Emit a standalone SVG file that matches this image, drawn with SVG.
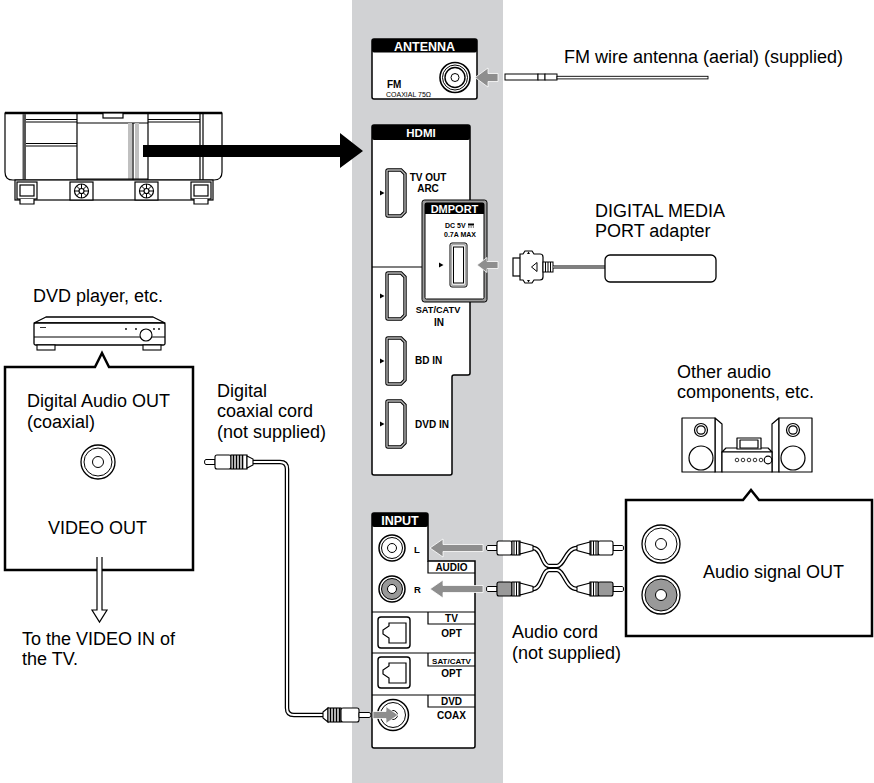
<svg xmlns="http://www.w3.org/2000/svg" width="874" height="783" viewBox="0 0 874 783">
<style>
.lbl{font-family:"Liberation Sans",Arial,sans-serif;font-size:18px;fill:#000}
.b{font-family:"Liberation Sans",Arial,sans-serif;font-weight:bold;fill:#000}
.w{fill:#fff}
.ln{fill:none;stroke:#000;stroke-width:1.2}
.pnl{fill:#fff;stroke:#000;stroke-width:1.5}
.ga{fill:#8e8e8e;stroke:#fff;stroke-width:0.8}
.cbo{fill:none;stroke:#000;stroke-width:4.5;stroke-linecap:round;stroke-linejoin:round}
.cbi{fill:none;stroke:#fff;stroke-width:2;stroke-linecap:round;stroke-linejoin:round}
.port{fill:#fff;stroke:#000;stroke-width:3.4}
.porti{fill:none;stroke:#b8b8b8;stroke-width:1.4}
.tri{fill:#000}
</style>
<defs>
<g id="rca">
<path d="M0.5,-2.5 H10 V2.5 H0.5 Q-0.5,2.5 -0.5,0 Q-0.5,-2.5 0.5,-2.5 Z" fill="#fff" stroke="#000" stroke-width="1"/>
<rect x="10" y="-7" width="15" height="14" rx="2" stroke="#000" stroke-width="1.1"/>
<rect x="25" y="-7" width="8" height="14" fill="#fff" stroke="#000" stroke-width="1.1"/>
<path d="M27,-7 V7 M29.5,-7 V7 M32,-7 V7" stroke="#000" stroke-width="1"/>
<path d="M33,-6 L46,-2.5 V2.5 L33,6 Z" fill="#fff" stroke="#000" stroke-width="1.1"/>
</g>
<g id="hdmiport">
<path class="port" d="M1,0 H14 L18,4 V42 L14,46 H1 Q0,46 0,45 V1 Q0,0 1,0 Z"/>
<path class="porti" d="M1,0 H14 L18,4 V42 L14,46 H1 Q0,46 0,45 V1 Q0,0 1,0 Z"/>
<path class="tri" d="M-7,20.5 L-2.5,23 L-7,25.5 Z"/>
</g>
<g id="optport">
<rect x="0" y="0" width="32" height="31" rx="3" fill="#fff" stroke="#000" stroke-width="1.4"/>
<path d="M11,6 H28 V26 H11 V21 L5,17 V13 L11,9 Z" fill="none" stroke="#000" stroke-width="1.2"/>
</g>
</defs>

<rect x="0" y="0" width="874" height="783" fill="#fff"/>
<rect id="receiver-band" x="352" y="0" width="151" height="783" fill="#d1d2d4"/>

<!-- TV -->
<g id="tv" fill="#fff" stroke="#000" stroke-width="1.2">
<path d="M5,113 H222 V172 Q222,180 214,180 H13 Q5,180 5,172 Z"/>
<line x1="5" y1="113" x2="222" y2="113" stroke-width="2.5"/>
<rect x="22.5" y="114" width="3.5" height="66" fill="#555" stroke="none"/>
<line x1="77" y1="113" x2="77" y2="180"/>
<line x1="148" y1="113" x2="148" y2="180"/>
<line x1="200" y1="113" x2="200" y2="180"/>
<line x1="203" y1="113" x2="203" y2="180"/>
<rect x="103" y="113" width="20" height="5"/>
<line x1="77" y1="123" x2="148" y2="123"/>
<rect x="128" y="123" width="4" height="56" fill="#c0c0c0" stroke="none"/>
<rect x="135" y="123" width="4" height="56" fill="#c0c0c0" stroke="none"/>
<line x1="133" y1="123" x2="133" y2="180"/>
<line x1="77" y1="179" x2="148" y2="179"/>
<line x1="26" y1="119.5" x2="77" y2="119.5"/>
<line x1="26" y1="122" x2="77" y2="122"/>
<line x1="26" y1="143.5" x2="77" y2="143.5"/>
<line x1="26" y1="146" x2="77" y2="146"/>
<line x1="148" y1="119.5" x2="200" y2="119.5"/>
<line x1="148" y1="122" x2="200" y2="122"/>
<rect x="15" y="180" width="198" height="20"/>
<rect x="17" y="182" width="20" height="17"/>
<rect x="20" y="185" width="14" height="11"/>
<path d="M20,199 V204 H34 V199"/>
<rect x="191" y="182" width="20" height="17"/>
<rect x="194" y="185" width="14" height="11"/>
<path d="M194,199 V204 H208 V199"/>
<rect x="70" y="182" width="23" height="18"/>
<circle cx="81.5" cy="191" r="7"/>
<path d="M74.5,191 H88.5 M81.5,184 V198 M76.5,186 L86.5,196 M86.5,186 L76.5,196" stroke-width="1"/>
<circle cx="81.5" cy="191" r="2.5"/>
<rect x="135" y="182" width="23" height="18"/>
<circle cx="146.5" cy="191" r="7"/>
<path d="M139.5,191 H153.5 M146.5,184 V198 M141.5,186 L151.5,196 M151.5,186 L141.5,196" stroke-width="1"/>
<circle cx="146.5" cy="191" r="2.5"/>
</g>

<!-- ANTENNA panel -->
<g id="antenna-panel">
<rect x="372" y="39" width="105" height="60" rx="2" class="pnl"/>
<rect x="372" y="39" width="105" height="13.5" rx="2" fill="#000"/>
<text x="424.5" y="50.5" class="b w" font-size="12.5" text-anchor="middle">ANTENNA</text>
<text x="387" y="88" class="b" font-size="10">FM</text>
<text x="386" y="96.5" font-family="Liberation Sans, Arial, sans-serif" font-size="7" fill="#000">COAXIAL 75Ω</text>
<circle cx="455" cy="77.5" r="15" fill="#fff" stroke="#000" stroke-width="1.6"/>
<circle cx="455" cy="77.5" r="12.5" fill="none" stroke="#000" stroke-width="1"/>
<circle cx="455" cy="77.5" r="10" fill="none" stroke="#000" stroke-width="1.4"/>
<circle cx="455" cy="77.5" r="4" fill="none" stroke="#000" stroke-width="1"/>
</g>

<!-- FM wire antenna -->
<g id="fm-antenna">
<rect x="505" y="74" width="33" height="6" fill="#fff" stroke="#000" stroke-width="1"/>
<rect x="538" y="74" width="7" height="6" fill="#fff" stroke="#000" stroke-width="1"/>
<rect x="545" y="74" width="12" height="6" fill="#fff" stroke="#000" stroke-width="1"/>
<rect x="557" y="76.3" width="151" height="2.6" fill="#fff" stroke="#000" stroke-width="0.9"/>
<text x="564" y="63" class="lbl">FM wire antenna (aerial) (supplied)</text>
</g>

<!-- HDMI panel -->
<g id="hdmi-panel">
<path class="pnl" d="M372,127 Q372,125 374,125 H468 Q470,125 470,127 V373 Q470,375 468,375 H454 Q452,375 452,377 V473 Q452,475 450,475 H374 Q372,475 372,473 Z"/>
<rect x="372" y="125" width="98" height="15" rx="2" fill="#000"/>
<text x="421" y="137" class="b w" font-size="11.5" text-anchor="middle">HDMI</text>
<line x1="372" y1="267" x2="422" y2="267" class="ln"/>
<use href="#hdmiport" x="387" y="170"/>
<text x="428" y="181" class="b" font-size="10" text-anchor="middle">TV OUT</text>
<text x="428" y="192" class="b" font-size="10" text-anchor="middle">ARC</text>
<use href="#hdmiport" x="387" y="273"/>
<text x="438" y="313" class="b" font-size="9.2" text-anchor="middle">SAT/CATV</text>
<text x="439" y="326" class="b" font-size="10" text-anchor="middle">IN</text>
<use href="#hdmiport" x="387" y="338"/>
<text x="415" y="364" class="b" font-size="10">BD IN</text>
<use href="#hdmiport" x="387" y="401"/>
<text x="415" y="428" class="b" font-size="10">DVD IN</text>
</g>

<!-- DMPORT -->
<g id="dmport">
<rect x="422" y="200" width="65" height="102" rx="2.5" fill="#9a9a9a" stroke="#000" stroke-width="1"/>
<rect x="425" y="203" width="59" height="96" rx="1.5" fill="#fff" stroke="#000" stroke-width="1"/>
<rect x="425" y="203" width="59" height="11" fill="#000"/>
<text x="454.5" y="212.5" class="b w" font-size="11" text-anchor="middle">DMPORT</text>
<text x="445" y="228" class="b" font-size="7">DC 5V</text>
<rect x="468" y="223.5" width="6" height="2" fill="#000"/>
<path d="M468,227 H469.5 M470.5,227 H471.8 M472.8,227 H474" stroke="#000" stroke-width="0.9"/>
<text x="460" y="237" class="b" font-size="7" text-anchor="middle">0.7A MAX</text>
<rect x="450" y="243" width="17" height="44" rx="2" fill="#fff" stroke="#000" stroke-width="1"/>
<rect x="451.5" y="244.5" width="14" height="41" rx="1.5" fill="none" stroke="#aaa" stroke-width="1.4"/>
<rect x="453.5" y="247" width="10" height="36" fill="#fff" stroke="#000" stroke-width="1"/>
<path class="tri" d="M439,262.5 L443.5,265 L439,267.5 Z"/>
</g>

<!-- DIGITAL MEDIA PORT adapter -->
<g id="dmport-adapter">
<rect x="513" y="258" width="8" height="18" fill="#fff" stroke="#000" stroke-width="1.2"/>
<path d="M520,254 H523 L525,251 H532 L534,254 H540 Q543,254 543,257 V277 Q543,280 540,280 H534 L532,283 H525 L523,280 H520 Z" fill="#fff" stroke="#000" stroke-width="1.2"/>
<path d="M527,254 L528.5,251.5 L530,254 Z M527,280 L528.5,282.5 L530,280 Z" fill="#000"/>
<path d="M537,262.5 L531.5,267 L537,271.5 Z" fill="#fff" stroke="#000" stroke-width="1"/>
<rect x="543" y="262" width="10" height="10" fill="#fff" stroke="#000" stroke-width="1"/>
<path d="M545.5,262 V272 M548,262 V272 M550.5,262 V272" stroke="#000" stroke-width="1"/>
<path d="M553,267 H605" stroke="#000" stroke-width="3.2"/>
<path d="M553,267 H605" stroke="#fff" stroke-width="1.2"/>
<rect x="605" y="255" width="111" height="27" rx="5" fill="#fff" stroke="#000" stroke-width="1.3"/>
<text x="595" y="217" class="lbl">DIGITAL MEDIA</text>
<text x="595" y="237" class="lbl">PORT adapter</text>
</g>

<!-- DVD player -->
<g id="dvd-player">
<text x="33" y="302" class="lbl">DVD player, etc.</text>
<path d="M34,323 L46,317 H153 L165,323 Z" fill="#fff" stroke="#000" stroke-width="1.3" stroke-linejoin="round"/>
<rect x="34" y="323" width="131" height="22" rx="1.5" fill="#fff" stroke="#000" stroke-width="1.3"/>
<line x1="34" y1="337" x2="140" y2="337" stroke="#000" stroke-width="1"/>
<line x1="152" y1="337" x2="165" y2="337" stroke="#000" stroke-width="1"/>
<circle cx="146" cy="335" r="6" fill="#fff" stroke="#000" stroke-width="1.1"/>
<rect x="37" y="345" width="18" height="5" fill="#fff" stroke="#000" stroke-width="1.1"/>
<rect x="143" y="345" width="18" height="5" fill="#fff" stroke="#000" stroke-width="1.1"/>
<line x1="40" y1="327.5" x2="46" y2="327.5" stroke="#000" stroke-width="0.8"/>
<circle cx="126" cy="329" r="0.9" fill="#000"/>
<circle cx="136" cy="329" r="0.9" fill="#000"/>
<circle cx="154" cy="329" r="0.9" fill="#000"/>
<circle cx="159" cy="329" r="0.9" fill="#000"/>
</g>

<!-- DVD callout -->
<g id="dvd-callout">
<path d="M5,367 H95 L102,353 L109,367 H193 V570 H5 Z" fill="#fff" stroke="#000" stroke-width="2.5" stroke-linejoin="miter"/>
<text x="27" y="407" class="lbl">Digital Audio OUT</text>
<text x="27" y="428" class="lbl">(coaxial)</text>
<circle cx="98" cy="462" r="17" fill="#fff" stroke="#000" stroke-width="1.3"/>
<circle cx="98" cy="462" r="14" fill="none" stroke="#000" stroke-width="1"/>
<circle cx="98" cy="462" r="5.5" fill="none" stroke="#000" stroke-width="1"/>
<text x="48" y="534" class="lbl">VIDEO OUT</text>
<path d="M97,557 V610 H92 L99.5,622 L107,610 H102 V557" fill="#fff" stroke="#000" stroke-width="1.2"/>
<text x="22" y="645" class="lbl">To the VIDEO IN of</text>
<text x="22" y="665" class="lbl">the TV.</text>
</g>

<!-- INPUT panel -->
<g id="input-panel">
<path class="pnl" d="M372,515 Q372,513 374,513 H426 Q428,513 428,515 V561 H475 V746 Q475,748 473,748 H374 Q372,748 372,746 Z"/>
<rect x="372" y="513" width="56" height="14" rx="2" fill="#000"/>
<text x="400" y="525" class="b w" font-size="12.5" text-anchor="middle">INPUT</text>
<path d="M428,561 V573 H475" class="ln"/>
<text x="451.5" y="571" class="b" font-size="10" text-anchor="middle">AUDIO</text>
<circle cx="392" cy="548" r="13" fill="#fff" stroke="#000" stroke-width="1.5"/>
<circle cx="392" cy="548" r="10.5" fill="none" stroke="#000" stroke-width="1"/>
<circle cx="392" cy="548" r="4.5" fill="none" stroke="#000" stroke-width="1"/>
<text x="414" y="553" class="b" font-size="9.5">L</text>
<circle cx="392" cy="589" r="13" fill="#fff" stroke="#000" stroke-width="1.5"/>
<circle cx="392" cy="589" r="10.5" fill="#999" stroke="#000" stroke-width="1"/>
<circle cx="392" cy="589" r="4.5" fill="#fff" stroke="#000" stroke-width="1"/>
<text x="414" y="593" class="b" font-size="9.5">R</text>
<line x1="372" y1="612" x2="475" y2="612" class="ln"/>
<path d="M428,612 V624 H475" class="ln"/>
<text x="451.5" y="622" class="b" font-size="10" text-anchor="middle">TV</text>
<text x="451.5" y="637" class="b" font-size="10" text-anchor="middle">OPT</text>
<use href="#optport" x="378" y="617"/>
<line x1="372" y1="653" x2="475" y2="653" class="ln"/>
<path d="M428,653 V666 H475" class="ln"/>
<text x="451.5" y="663.5" class="b" font-size="8" text-anchor="middle">SAT/CATV</text>
<text x="451.5" y="677" class="b" font-size="10" text-anchor="middle">OPT</text>
<use href="#optport" x="378" y="657"/>
<line x1="372" y1="695" x2="475" y2="695" class="ln"/>
<path d="M428,695 V707 H475" class="ln"/>
<text x="451.5" y="705" class="b" font-size="10" text-anchor="middle">DVD</text>
<text x="451.5" y="719" class="b" font-size="10" text-anchor="middle">COAX</text>
<circle cx="393" cy="715" r="15.5" fill="#fff" stroke="#000" stroke-width="1.5"/>
<circle cx="393" cy="715" r="12.5" fill="none" stroke="#000" stroke-width="1"/>
<circle cx="393" cy="715" r="4.5" fill="none" stroke="#000" stroke-width="1"/>
</g>

<!-- Other audio components -->
<g id="audio-components">
<text x="677" y="378" class="lbl">Other audio</text>
<text x="677" y="398" class="lbl">components, etc.</text>
<g fill="#fff" stroke="#000" stroke-width="1.2" stroke-linejoin="round">
<path d="M715,418 L722,424 V472 H715 Z"/>
<rect x="682" y="418" width="33" height="54"/>
<circle cx="701" cy="430" r="6.5"/>
<circle cx="701" cy="430" r="4.2"/>
<circle cx="701" cy="458" r="12"/>
<path d="M779,418 L772,424 V472 H779 Z"/>
<rect x="779" y="418" width="33" height="54"/>
<circle cx="793" cy="430" r="6.5"/>
<circle cx="793" cy="430" r="4.2"/>
<circle cx="793" cy="458" r="12"/>
<path d="M722,452 L726,448 H768 L772,452 Z"/>
<rect x="722" y="452" width="50" height="20"/>
<rect x="737" y="438" width="24" height="11"/>
<rect x="740" y="440" width="18" height="8"/>
<circle cx="768" cy="460" r="3.8"/>
</g>
<g fill="#fff" stroke="#000" stroke-width="0.8">
<circle cx="737" cy="460" r="1.8"/>
<circle cx="743" cy="460" r="1.8"/>
<circle cx="749" cy="460" r="1.8"/>
<circle cx="755" cy="460" r="1.8"/>
<circle cx="761" cy="460" r="1.8"/>
</g>
</g>

<!-- Audio callout -->
<g id="audio-callout">
<path d="M626,500 H743 L751,490 L759,500 H872 V636 H626 Z" fill="#fff" stroke="#000" stroke-width="2.5"/>
<circle cx="661" cy="544" r="19" fill="#fff" stroke="#000" stroke-width="1.3"/>
<circle cx="661" cy="544" r="16" fill="none" stroke="#000" stroke-width="1"/>
<circle cx="661" cy="544" r="5.5" fill="#fff" stroke="#000" stroke-width="1"/>
<circle cx="661" cy="595" r="19" fill="#fff" stroke="#000" stroke-width="1.3"/>
<circle cx="661" cy="595" r="16" fill="#999" stroke="#000" stroke-width="1"/>
<circle cx="661" cy="595" r="5.5" fill="#fff" stroke="#000" stroke-width="1"/>
<text x="703" y="578" class="lbl">Audio signal OUT</text>
</g>

<!-- Connectors -->
<g id="connectors">
<path id="tv-hdmi-arrow" d="M143,145 H340 V133 L363,151 L340,168 V157 H143 Z" fill="#000"/>
<path id="fm-arrow" class="ga" d="M475,77.5 L488,68 V73.5 H498 V81.5 H488 V87 Z"/>
<path id="dmport-arrow" class="ga" d="M477,265 L487,257.5 V261.5 H498 V268.5 H487 V272.5 Z"/>
<path id="audio-l-arrow" class="ga" d="M430,548 L443,539 V544.5 H483 V551.5 H443 V557 Z"/>
<path id="audio-r-arrow" class="ga" d="M430,589 L443,580 V585.5 H483 V592.5 H443 V598 Z"/>

<g id="coax-cord">
<path class="cbo" d="M253,462 H280 Q287,462 287,469 V708 Q287,715 294,715 H323"/>
<path class="cbi" d="M253,462 H280 Q287,462 287,469 V708 Q287,715 294,715 H323"/>
<path d="M206,459.5 H215 V464.5 H206 Q204.5,464.5 204.5,462 Q204.5,459.5 206,459.5 Z" fill="#fff" stroke="#000" stroke-width="1"/>
<rect x="215" y="455" width="16" height="14" rx="2" fill="#fff" stroke="#000" stroke-width="1.1"/>
<rect x="231" y="455" width="16" height="14" fill="#fff" stroke="#000" stroke-width="1.1"/>
<path d="M233.5,455 V469 M236.5,455 V469 M239.5,455 V469 M242.5,455 V469" stroke="#000" stroke-width="1.6"/>
<path d="M247,456 L253,459 V465 L247,468 Z" fill="#fff" stroke="#000" stroke-width="1.1"/>
<path d="M323,712 L328,708 V722 L323,718 Z" fill="#fff" stroke="#000" stroke-width="1.1"/>
<rect x="328" y="708" width="13" height="14" fill="#fff" stroke="#000" stroke-width="1.1"/>
<path d="M330.5,708 V722 M333.5,708 V722 M336.5,708 V722 M339.5,708 V722" stroke="#000" stroke-width="1.6"/>
<rect x="341" y="708" width="18" height="14" rx="2" fill="#fff" stroke="#000" stroke-width="1.1"/>
<path d="M359,712.5 H369 Q371,712.5 371,715 Q371,717.5 369,717.5 H359 Z" fill="#fff" stroke="#000" stroke-width="1"/>
<path id="coax-arrow" class="ga" d="M398,715 L386,706.5 V711.5 H373 V718.5 H386 V723.5 Z"/>
</g>

<g id="audio-cord">
<path class="cbo" d="M533,548 C542,548 542,566 549,566 H557 C564,566 566,548 577,548"/>
<path class="cbo" d="M533,589 C542,589 542,570 549,570 H557 C564,570 566,589 577,589"/>
<path class="cbi" d="M533,548 C542,548 542,566 549,566 H557 C564,566 566,548 577,548"/>
<path class="cbi" d="M533,589 C542,589 542,570 549,570 H557 C564,570 566,589 577,589"/>
<use href="#rca" transform="translate(487,548)" fill="#fff"/>
<use href="#rca" transform="translate(487,589)" fill="#999"/>
<use href="#rca" transform="translate(623,548) scale(-1,1)" fill="#fff"/>
<use href="#rca" transform="translate(623,589) scale(-1,1)" fill="#999"/>
<text x="512" y="638" class="lbl">Audio cord</text>
<text x="512" y="659" class="lbl">(not supplied)</text>
</g>

<g id="coax-label">
<text x="217" y="397" class="lbl">Digital</text>
<text x="217" y="417" class="lbl">coaxial cord</text>
<text x="217" y="438" class="lbl">(not supplied)</text>
</g>
</g>
</svg>
